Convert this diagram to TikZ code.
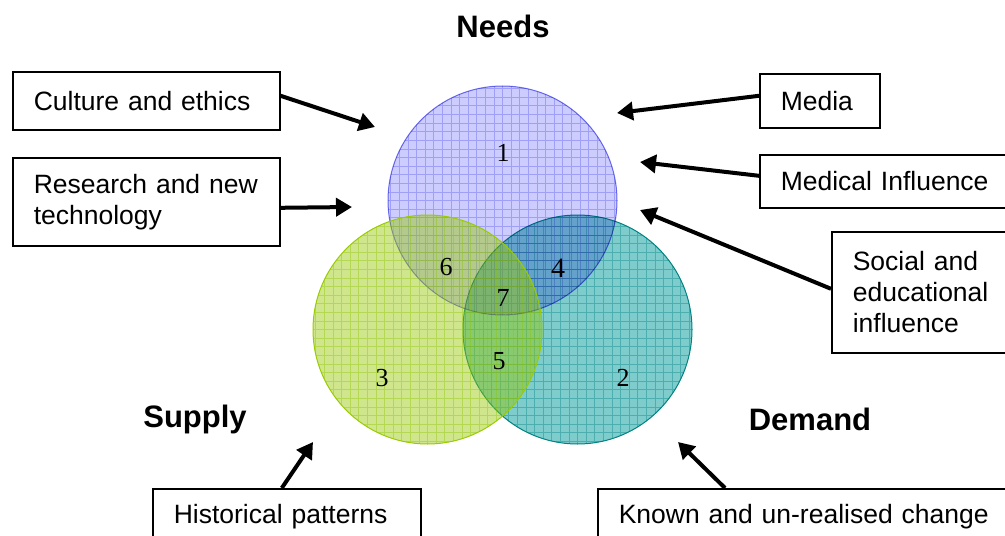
\documentclass[tikz,border=0pt]{standalone}
\usepackage{fontspec}
\setmainfont{Liberation Sans}
\newfontfamily\numfont{Liberation Serif}
\usetikzlibrary{arrows.meta,positioning}

\definecolor{needsfill}{RGB}{153,153,255}
\definecolor{needsgrid}{RGB}{115,115,235}
\definecolor{supplyfill}{RGB}{150,200,0}
\definecolor{supplyline}{RGB}{153,204,0}
\definecolor{supplygrid}{RGB}{140,195,0}
\definecolor{demandfill}{RGB}{0,153,153}
\definecolor{demandgrid}{RGB}{0,130,130}

\begin{document}
\begin{tikzpicture}[x=0.5pt,y=-0.5pt,
    >={Triangle[length=8pt,width=9pt]},
    infobox/.style={rectangle,draw=black,line width=0.8pt,anchor=north west,
                    align=left,inner xsep=10.5pt,inner ysep=0pt,
                    font=\fontsize{13.25}{15.5}\selectfont},
    heading/.style={font=\fontsize{15.5}{18}\selectfont\bfseries},
    region/.style={font=\numfont\fontsize{13}{15}\selectfont,inner sep=0pt},
    venn/.style={circle,minimum size=114.5pt,inner sep=0pt,line width=0.5pt},
    gridded/.style={path picture={
        \draw[#1,line width=0.4pt,draw opacity=0.4,step=4.3pt]
          (path picture bounding box.south west) grid (path picture bounding box.north east);}},
    single/.style={draw,line width=2pt,->},
  ]
  \useasboundingbox (0,0) rectangle (1005,535);
  \clip (0,0) rectangle (1005,535);

  % the three circles
  \node[venn,draw=demandgrid,fill=demandfill,fill opacity=0.5,
        gridded=demandgrid] (demand) at (577.5,329.5) {};
  \node[venn,draw=needsgrid,fill=needsfill,fill opacity=0.5,blend mode=multiply,
        gridded=needsgrid] (needs) at (502.5,200.5) {};
  \node[venn,draw=supplyline,fill=supplyfill,fill opacity=0.45,
        gridded=supplygrid] (supply) at (427.5,329.5) {};

  % regions
  \node[region] (r1) at (503,153) {1};
  \node[region] (r2) at (623,378) {2};
  \node[region] (r3) at (382,378) {3};
  \node[region,font=\numfont\fontsize{14}{16}\selectfont] (r4) at (558,268) {4};
  \node[region] (r5) at (499,361) {5};
  \node[region] (r6) at (446,267) {6};
  \node[region] (r7) at (503,298) {7};

  \node[heading] (needslbl) at (503,26) {Needs};
  \node[heading] (supplylbl) at (195,419) {Supply};
  \node[heading] (demandlbl) at (810,419) {Demand};

  % influences
  \node[infobox,text width=112.5pt,minimum height=29pt] (culture) at (12,71) {Culture and ethics};
  \node[infobox,text width=112.5pt,minimum height=44pt] (research) at (12,157) {Research and new\\technology};
  \node[infobox,text width=39pt,minimum height=27pt] (media) at (759,73) {Media};
  \node[infobox,text width=114.5pt,minimum height=26.5pt] (medical) at (759,154) {Medical Influence};
  \node[infobox,text width=78.5pt,minimum height=60.5pt] (social) at (831,231) {Social and\\educational\\influence};
  \node[infobox,text width=113pt,minimum height=28pt] (history) at (152,488) {Historical patterns};
  \node[infobox,text width=195.5pt,minimum height=28pt] (known) at (597,488) {Known and un-realised change};

  \coordinate (cultureend) at (375,127);
  \coordinate (researchend) at (352,207);
  \coordinate (mediaend) at (617,113);
  \coordinate (medicalend) at (640,162);
  \coordinate (socialend) at (640,210);
  \coordinate (historyend) at (313,442);
  \coordinate (knownend) at (678,442);

  \path ([yshift=2.5pt]culture.east) edge[single] (cultureend);
  \path ([yshift=-3pt]research.east) edge[single] (researchend);
  \path ([yshift=2.5pt]media.west) edge[single] (mediaend);
  \path ([yshift=2.75pt]medical.west) edge[single] (medicalend);
  \path ([yshift=1.75pt]social.west) edge[single] (socialend);
  \path ([xshift=-2.5pt]history.north) edge[single] (historyend);
  \path ([xshift=64pt]known.north west) edge[single] (knownend);
\end{tikzpicture}
\end{document}
